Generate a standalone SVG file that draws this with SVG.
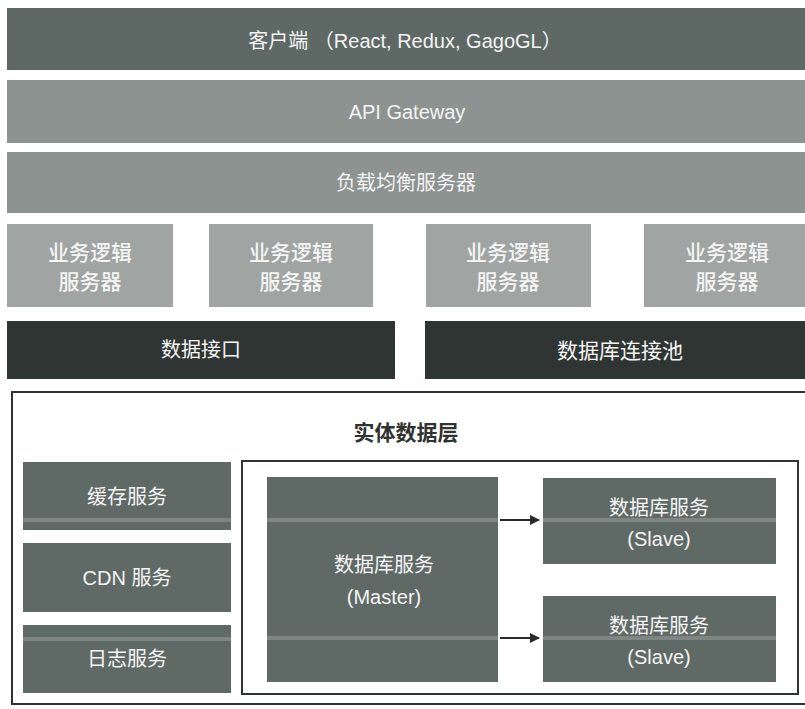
<svg xmlns="http://www.w3.org/2000/svg" width="805" height="709" viewBox="0 0 805 709">
<defs>
<style>
.t{font-family:"Liberation Sans","Noto Sans CJK SC",sans-serif;fill:#f4f4f4;text-anchor:middle;dominant-baseline:central}
.bar1{fill:#5e6965}
.bar2{fill:#8c9390}
.biz{fill:#a0a4a2}
.dark{fill:#2e3532}
.ent{fill:#5f6966}
.stripe{fill:#a9b1ae;opacity:0.4}
.frame{fill:none;stroke:#2f3331;stroke-width:2}
.conn{stroke:#2a2a2a;stroke-width:2;fill:none}
</style>
<marker id="ah" viewBox="0 0 10 10" refX="9" refY="5" markerWidth="5" markerHeight="5" orient="auto">
<path d="M0,0 L10,5 L0,10 Z" fill="#2a2a2a"/>
</marker>
</defs>
<rect width="805" height="709" fill="#ffffff"/>

<g id="client"><rect class="bar1" x="7" y="8" width="798" height="62"/><text class="t" x="405" y="41" font-size="20">客户端 （React, Redux, GagoGL）</text></g>
<g id="gateway"><rect class="bar2" x="7" y="80" width="798" height="63"/><text class="t" x="407" y="112" font-size="20">API Gateway</text></g>
<g id="lb"><rect class="bar2" x="7" y="152" width="798" height="61"/><text class="t" x="406" y="183" font-size="20">负载均衡服务器</text></g>

<g id="biz1"><rect class="biz" x="7" y="224" width="166" height="83"/><text class="t" x="90" y="252" font-size="21" font-weight="500">业务逻辑</text><text class="t" x="90" y="281" font-size="21" font-weight="500">服务器</text></g>
<g id="biz2"><rect class="biz" x="209" y="224" width="164" height="83"/><text class="t" x="291" y="252" font-size="21" font-weight="500">业务逻辑</text><text class="t" x="291" y="281" font-size="21" font-weight="500">服务器</text></g>
<g id="biz3"><rect class="biz" x="426" y="224" width="165" height="83"/><text class="t" x="508" y="252" font-size="21" font-weight="500">业务逻辑</text><text class="t" x="508" y="281" font-size="21" font-weight="500">服务器</text></g>
<g id="biz4"><rect class="biz" x="644" y="224" width="161" height="83"/><text class="t" x="727" y="252" font-size="21" font-weight="500">业务逻辑</text><text class="t" x="727" y="281" font-size="21" font-weight="500">服务器</text></g>

<g id="dataif"><rect class="dark" x="7" y="321" width="388" height="58"/><text class="t" x="201" y="350" font-size="20">数据接口</text></g>
<g id="pool"><rect class="dark" x="425" y="321" width="380" height="58"/><text class="t" x="620" y="350" font-size="21">数据库连接池</text></g>

<g id="entity"><rect class="frame" x="12" y="392" width="800" height="312"/><text x="406" y="432" font-size="21" font-weight="bold" fill="#2f3331" text-anchor="middle" dominant-baseline="central" font-family="Liberation Sans,Noto Sans CJK SC,sans-serif">实体数据层</text></g>

<g id="cache"><rect class="ent" x="23" y="462" width="208" height="68"/><rect class="stripe" x="23" y="518" width="208" height="4"/><text class="t" x="127" y="497" font-size="20">缓存服务</text></g>
<g id="cdn"><rect class="ent" x="23" y="543" width="208" height="69"/><text class="t" x="127" y="578" font-size="20">CDN 服务</text></g>
<g id="log"><rect class="ent" x="23" y="625" width="208" height="68"/><rect class="stripe" x="23" y="637" width="208" height="4"/><text class="t" x="127" y="659" font-size="20">日志服务</text></g>

<g id="dbgroup"><rect class="frame" x="242" y="461" width="556" height="233"/></g>
<g id="master"><rect class="ent" x="267" y="477" width="231" height="205"/><rect class="stripe" x="267" y="518" width="231" height="4"/><rect class="stripe" x="267" y="636" width="231" height="4"/><text class="t" x="384" y="565" font-size="20">数据库服务</text><text class="t" x="384" y="597" font-size="20">(Master)</text></g>
<g id="slave1"><rect class="ent" x="543" y="478" width="233" height="86"/><rect class="stripe" x="543" y="518" width="233" height="4"/><text class="t" x="659" y="508" font-size="20">数据库服务</text><text class="t" x="659" y="539" font-size="20">(Slave)</text></g>
<g id="slave2"><rect class="ent" x="543" y="596" width="233" height="86"/><rect class="stripe" x="543" y="636" width="233" height="4"/><text class="t" x="659" y="626" font-size="20">数据库服务</text><text class="t" x="659" y="657" font-size="20">(Slave)</text></g>

<g id="connectors">
<line class="conn" x1="500" y1="520" x2="539" y2="520" marker-end="url(#ah)"/>
<line class="conn" x1="500" y1="638" x2="539" y2="638" marker-end="url(#ah)"/>
</g>
</svg>
